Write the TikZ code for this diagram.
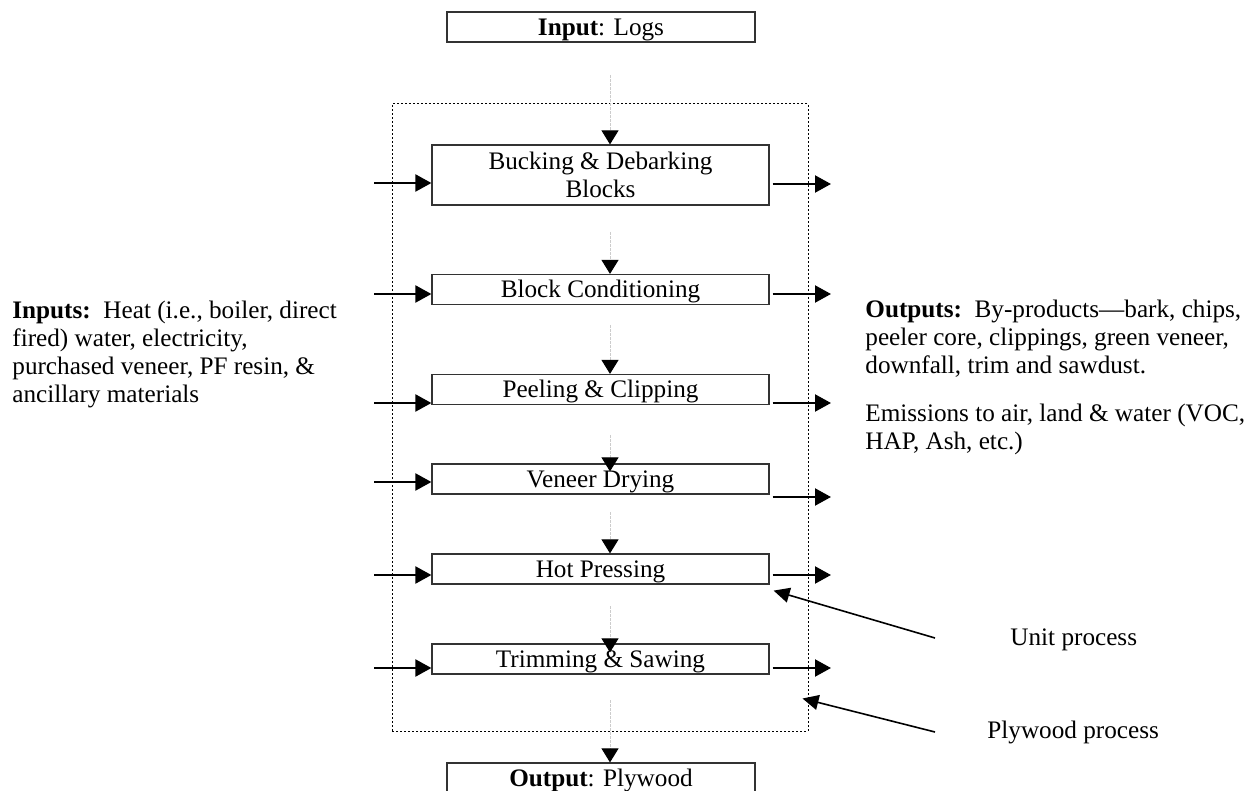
\documentclass[tikz,border=0pt]{standalone}
\usepackage{fontspec}
\setmainfont{Liberation Serif}
\usetikzlibrary{arrows.meta,calc}

\begin{document}
\begin{tikzpicture}[x=0.5pt, y=-0.5pt,
    every node/.style={font=\fontsize{12.6pt}{14pt}\selectfont},
    unit/.style={draw=black!80, line width=0.6pt, minimum width=168.5pt, minimum height=15pt, inner sep=0pt, align=center, text height=8.4pt, text depth=0pt},
    io/.style={unit, minimum width=154pt},
    flow/.style={line width=1.1pt, -{Triangle[length=8pt,width=8.5pt]}},
    feed/.style={gray!40, line width=0.5pt, dash pattern=on 1.5pt off 0.5pt, -{Triangle[length=7pt,width=8.5pt,color=black]}},
    pointer/.style={line width=0.8pt, -{Triangle[length=8pt,width=7.5pt]}},
    note/.style={inner sep=0pt, align=left, anchor=north west}]
  \useasboundingbox (0,0) rectangle (1249,791);
  \clip (0,0) rectangle (1249,791);

  \node[draw, line width=0.5pt, dash pattern=on 1pt off 1pt, minimum width=208pt, minimum height=313.5pt, inner sep=0pt] (frame) at (600,417.5) {};

  \node[io] (logs) at (601,27) {\textbf{Input}: Logs};
  \node[unit, minimum height=30pt, text height=, text depth=] (buck) at (600.5,175) {Bucking \& Debarking\\Blocks};
  \node[unit] (cond) at (600.5,289.5) {Block Conditioning};
  \node[unit] (peel) at (600.5,389.5) {Peeling \& Clipping};
  \node[unit] (dry) at (600.5,479) {Veneer Drying};
  \node[unit] (press) at (600.5,569) {Hot Pressing};
  \node[unit] (trim) at (600.5,659) {Trimming \& Sawing};
  \node[io] (plywood) at (601,778) {\textbf{Output}: Plywood};

  \foreach \n/\ya/\dy in {buck/75/0, cond/232/0, peel/325/0, dry/435/8, press/512/0, trim/606/9, plywood/700/0}{
    \coordinate (\n-feed) at (610,\ya);
    \draw[feed] (\n-feed) -- ($(\n-feed |- \n.north)+(0,\dy)$);
  }

  \foreach \n/\yl/\yr in {buck/183/184, cond/294/294, peel/403/403, dry/482/497, press/575/575, trim/668/668}{
    \coordinate (\n-in) at (374,\yl);
    \coordinate (\n-out) at (831,\yr);
    \draw[flow] (\n-in) -- (\n-in -| \n.west);
    \draw[flow, shorten <=1.5pt] (\n-out -| \n.east) -- (\n-out);
  }

  \node[note] (inputs) at (12,301) {\textbf{Inputs:}\ \ Heat (i.e., boiler, direct\\fired) water, electricity,\\purchased veneer, PF resin, \&\\ancillary materials};
  \node[note] (outputs) at (865,300) {\textbf{Outputs:}\ \ By-products---bark, chips,\\peeler core, clippings, green veneer,\\downfall, trim and sawdust.};
  \node[note] (emissions) at (865,404) {Emissions to air, land \& water (VOC,\\HAP, Ash, etc.)};

  \node[inner sep=0pt, anchor=base west] (unitlbl) at (1010,645) {Unit process};
  \node[inner sep=0pt, anchor=base west] (framelbl) at (987,738) {Plywood process};
  \coordinate (unit-tail) at (935,638);
  \coordinate (frame-tail) at (935,732);
  \draw[pointer] (unit-tail) -- ([shift={(4,6)}]press.south east);
  \draw[pointer] (frame-tail) -- ([shift={(-6,-33)}]frame.south east);
\end{tikzpicture}
\end{document}
